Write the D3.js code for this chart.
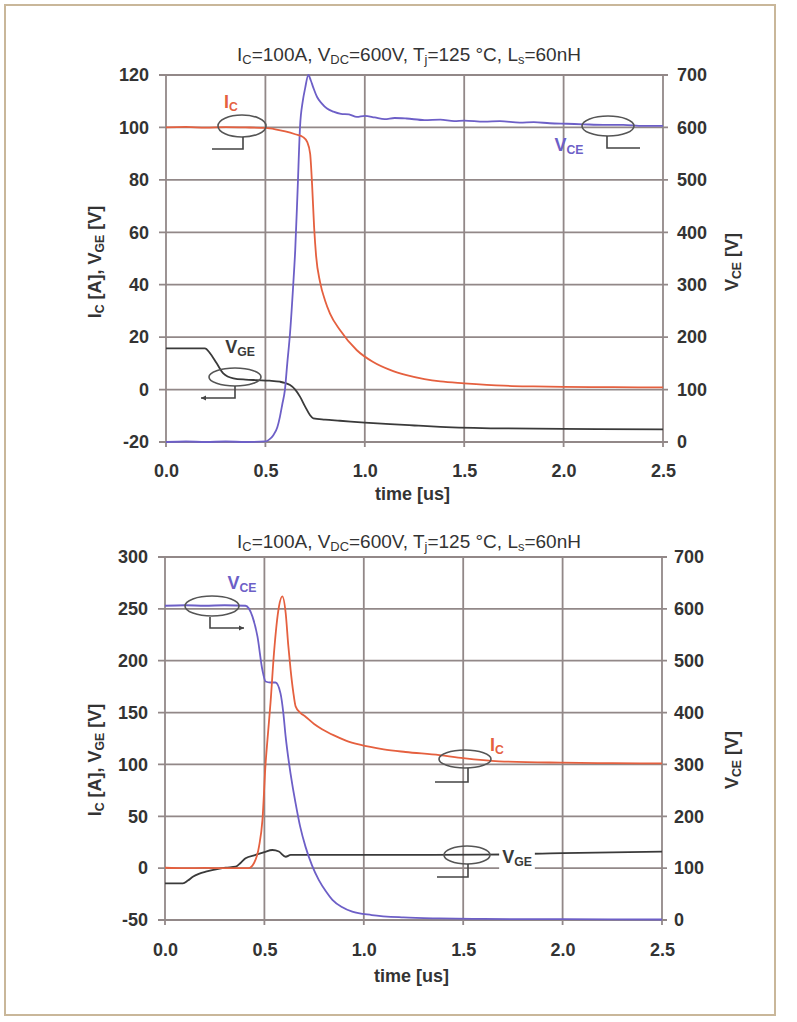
<!DOCTYPE html>
<html><head><meta charset="utf-8">
<script src="https://cdn.jsdelivr.net/npm/d3@7"></script>
<style>body{margin:0;background:#fff}svg{display:block}</style>
</head><body>
<script>
// ---------- DATA ----------
const timeTicks = [0, 0.5, 1.0, 1.5, 2.0, 2.5];
const topLeftTicks = [-20, 0, 20, 40, 60, 80, 100, 120];
const topRightTicks = [0, 100, 200, 300, 400, 500, 600, 700];
const botLeftTicks = [-50, 0, 50, 100, 150, 200, 250, 300];
const botRightTicks = [0, 100, 200, 300, 400, 500, 600, 700];

// Turn-off (top) : [time us, value]
const topIC = [[0,100],[0.1,100.2],[0.2,99.9],[0.3,100.1],[0.4,100],[0.5,99.8],[0.55,99.3],[0.6,98.5],[0.65,97.4],[0.69,96.3],[0.71,94.5],[0.725,90],[0.735,78],[0.745,62],[0.755,51],[0.775,41],[0.8,34],[0.825,29],[0.875,22.7],[0.96,15],[1.04,10.6],[1.13,7.4],[1.21,5.5],[1.3,4],[1.38,3.1],[1.5,2.4],[1.7,1.5],[1.85,1.2],[2.0,1.0],[2.25,0.9],[2.5,0.8]];
const topVCE = [[0,0],[0.1,1],[0.2,0],[0.3,1],[0.4,0],[0.5,1],[0.52,5],[0.54,13],[0.56,28],[0.573,48],[0.585,72],[0.598,99],[0.61,150],[0.624,208],[0.64,300],[0.65,366],[0.662,480],[0.674,600],[0.688,650],[0.7,675],[0.716,700],[0.728,690],[0.741,676],[0.76,658],[0.783,646],[0.81,636],[0.842,630],[0.88,626],[0.92,625],[0.96,620],[1.0,622],[1.05,619],[1.1,616],[1.15,618],[1.21,617],[1.3,614],[1.38,615],[1.45,612],[1.5,613],[1.6,611],[1.68,612],[1.78,609],[1.85,610],[1.93,608],[2.016,607],[2.1,606],[2.2,605],[2.3,605],[2.4,603],[2.5,603]];
const topVGE = [[0,15.7],[0.196,15.7],[0.22,14],[0.255,10],[0.288,6.2],[0.339,4.3],[0.4,3.8],[0.456,3.6],[0.52,3.4],[0.573,3.0],[0.6,2.5],[0.624,1.7],[0.65,0],[0.674,-2.7],[0.7,-6.5],[0.724,-9.7],[0.741,-11],[0.8,-11.5],[0.875,-11.9],[1.0,-12.6],[1.127,-13.2],[1.25,-13.7],[1.38,-14.2],[1.68,-14.8],[2.0,-15],[2.5,-15.2]];

// Turn-on (bottom)
const botIC = [[0,0.4],[0.1,0],[0.2,0.2],[0.3,0],[0.42,0],[0.448,5],[0.473,21],[0.49,46],[0.506,101],[0.515,123],[0.531,160],[0.548,207],[0.573,252],[0.59,262],[0.607,246],[0.62,215],[0.632,191],[0.645,170],[0.657,156],[0.68,150],[0.707,146],[0.75,139],[0.79,134],[0.85,128],[0.91,123],[0.98,119],[1.1,114.5],[1.21,112],[1.38,109],[1.5,106],[1.68,103],[2.0,101.7],[2.25,101.2],[2.5,101]];
const botVCE = [[0,606],[0.1,607],[0.2,606],[0.3,607],[0.405,606],[0.44,585],[0.465,547],[0.49,482],[0.506,460],[0.53,458],[0.556,458],[0.581,437],[0.595,400],[0.607,353],[0.624,302],[0.64,262],[0.657,225],[0.68,180],[0.707,141],[0.74,105],[0.774,77],[0.81,55],[0.842,39],[0.89,25],[0.942,16],[1.04,9.6],[1.2,5],[1.38,3],[1.6,2],[2.0,1.5],[2.5,1]];
const botVGE = [[0,-14.6],[0.09,-14.6],[0.115,-12],[0.14,-8.3],[0.17,-5.5],[0.205,-3.4],[0.25,-1.5],[0.305,0.4],[0.355,1.4],[0.38,5],[0.405,9.5],[0.456,12.7],[0.5,15.5],[0.54,17.5],[0.573,16],[0.607,11],[0.632,12.7],[0.8,12.7],[1.2,12.7],[1.6,13],[2.0,14.5],[2.5,16]];

// ---------- DRAW ----------
const W = 797, H = 1022;
const RED = "#e5603f", BLUE = "#6d5fc7", BLK = "#3a3a3a", GRID = "#928888", TXT = "#333";
const FONT = "'Liberation Sans', Arial, sans-serif";
const TICK = 18, TITLE = 19, AXT = 18, LAB = 18;

const svg = d3.select("body").append("svg").attr("width", W).attr("height", H)
  .style("font-family", FONT);
svg.append("rect").attr("x", 5).attr("y", 5).attr("width", 770).attr("height", 1010)
  .attr("fill", "#fff").attr("stroke", "#c9b79a").attr("stroke-width", 2);

function subText(sel, parts, size) {
  parts.forEach(([t, s]) => {
    if (t) sel.append("tspan").text(t);
    if (s) sel.append("tspan").attr("baseline-shift", "-25%").attr("font-size", size * 0.68).text(s);
  });
}

const titleParts = [["I","C"],["=100A, V","DC"],["=600V, T","j"],["=125 °C, L","s"],["=60nH",null]];
const intFmt = d => String(d);

function panel(cfg) {
  const x = d3.scaleLinear().domain([0, 2.5]).range([cfg.x0, cfg.x1]);
  const yL = d3.scaleLinear().domain(cfg.lDom).range([cfg.y1, cfg.y0]);
  const yR = d3.scaleLinear().domain([0, 700]).range([cfg.y1, cfg.y0]);
  const g = svg.append("g");

  g.selectAll(".hg").data(cfg.lTicks).join("line")
    .attr("x1", cfg.x0 - 7).attr("x2", cfg.x1 + 5)
    .attr("y1", d => yL(d)).attr("y2", d => yL(d))
    .attr("stroke", GRID).attr("stroke-width", 1.8);
  g.selectAll(".vg").data(timeTicks).join("line")
    .attr("x1", d => x(d)).attr("x2", d => x(d))
    .attr("y1", cfg.y0).attr("y2", cfg.y1 + 5)
    .attr("stroke", GRID).attr("stroke-width", 1.8);

  const ax = g.append("g").attr("transform", `translate(0,${cfg.y1 + 5})`)
    .call(d3.axisBottom(x).tickValues(timeTicks).tickFormat(d => d.toFixed(1)).tickSize(0).tickPadding(cfg.xPad));
  const al = g.append("g").attr("transform", `translate(${cfg.x0 - 7},0)`)
    .call(d3.axisLeft(yL).tickValues(cfg.lTicks).tickFormat(intFmt).tickSize(0).tickPadding(10));
  const ar = g.append("g").attr("transform", `translate(${cfg.x1 + 5},0)`)
    .call(d3.axisRight(yR).tickValues(cfg.rTicks).tickFormat(intFmt).tickSize(0).tickPadding(cfg.rPad));
  [ax, al, ar].forEach(a => {
    a.select(".domain").remove();
    a.selectAll("text").attr("font-size", TICK).attr("fill", TXT).attr("font-family", FONT).attr("font-weight", "bold");
  });

  g.append("text").attr("x", (cfg.x0 + cfg.x1) / 2 - 2).attr("y", cfg.y1 + cfg.tY)
    .attr("text-anchor", "middle").attr("font-size", AXT).attr("font-weight", "bold").attr("fill", TXT)
    .text("time [us]");
  const lt = g.append("text").attr("transform", `translate(${cfg.lx},${cfg.ly}) rotate(-90)`)
    .attr("text-anchor", "middle").attr("font-size", AXT).attr("font-weight", "bold").attr("fill", TXT);
  subText(lt, [["I","C"],[" [A],  V","GE"],[" [V]",null]], AXT);
  const rt = g.append("text").attr("transform", `translate(${cfg.rx},${cfg.ly}) rotate(-90)`)
    .attr("text-anchor", "middle").attr("font-size", AXT).attr("font-weight", "bold").attr("fill", TXT);
  subText(rt, [["V","CE"],[" [V]",null]], AXT);

  const tt = g.append("text").attr("x", 409).attr("y", cfg.titleY).attr("text-anchor", "middle")
    .attr("font-size", TITLE).attr("fill", TXT);
  subText(tt, titleParts, TITLE);

  const lineL = d3.line().x(d => x(d[0])).y(d => yL(d[1])).curve(d3.curveMonotoneX);
  const lineR = d3.line().x(d => x(d[0])).y(d => yR(d[1])).curve(d3.curveMonotoneX);
  g.append("path").datum(cfg.vge).attr("d", lineL).attr("fill", "none").attr("stroke", BLK).attr("stroke-width", 1.8);
  g.append("path").datum(cfg.vce).attr("d", lineR).attr("fill", "none").attr("stroke", BLUE).attr("stroke-width", 1.8);
  g.append("path").datum(cfg.ic).attr("d", lineL).attr("fill", "none").attr("stroke", RED).attr("stroke-width", 1.8);

  return {x, yL, yR, g};
}

function ellipse(g, cx, cy, rx, ry) {
  g.append("ellipse").attr("cx", cx).attr("cy", cy).attr("rx", rx).attr("ry", ry)
    .attr("fill", "none").attr("stroke", "#555").attr("stroke-width", 1.6);
}
function bracket(g, x0, y0, y1, x1, arrow) {
  g.append("path").attr("d", `M${x0},${y0}V${y1}H${x1}`).attr("fill", "none")
    .attr("stroke", "#444").attr("stroke-width", 1.6);
  if (arrow) {
    const dir = x1 > x0 ? 1 : -1;
    g.append("path").attr("d", `M${x1},${y1}l${-dir*5},-2.5v5z`).attr("fill", "#444");
  }
}
function label(g, x, y, main, sub, color, bg) {
  const t = g.append("text").attr("x", x).attr("y", y).attr("font-size", LAB)
    .attr("font-weight", "bold").attr("fill", color).attr("text-anchor", "middle");
  subText(t, [[main, sub]], LAB);
  if (bg) {
    const b = t.node().getBBox();
    g.insert("rect", () => t.node()).attr("x", b.x - 3).attr("y", b.y).attr("width", b.width + 6)
      .attr("height", b.height).attr("fill", "#fff");
  }
}

// Top panel
const P1 = panel({x0: 166, x1: 663, y0: 75, y1: 442, lDom: [-20, 120], lTicks: topLeftTicks, rTicks: topRightTicks,
  ic: topIC, vce: topVCE, vge: topVGE, xPad: 17, rPad: 9, tY: 58, lx: 101, rx: 738, ly: 262, titleY: 61});
ellipse(P1.g, 242, 126, 24, 11);
bracket(P1.g, 243, 137, 149, 212, false);
label(P1.g, 231, 108, "I", "C", RED);
ellipse(P1.g, 608, 126, 26, 10);
bracket(P1.g, 607, 136, 148, 640, false);
label(P1.g, 569, 151, "V", "CE", BLUE);
ellipse(P1.g, 235, 377, 26, 9);
bracket(P1.g, 235, 386, 398, 201, true);
label(P1.g, 240, 353, "V", "GE", BLK);

// Bottom panel
const P2 = panel({x0: 165, x1: 662, y0: 557, y1: 920, lDom: [-50, 300], lTicks: botLeftTicks, rTicks: botRightTicks,
  ic: botIC, vce: botVCE, vge: botVGE, xPad: 18, rPad: 7, tY: 62, lx: 101, rx: 738, ly: 760, titleY: 548});
ellipse(P2.g, 212, 606, 27, 10);
bracket(P2.g, 210, 617, 628, 244, true);
label(P2.g, 242, 589, "V", "CE", BLUE);
ellipse(P2.g, 465, 759, 26, 9);
bracket(P2.g, 468, 768, 782, 435, false);
label(P2.g, 497, 751, "I", "C", RED);
label(P2.g, 517, 863, "V", "GE", BLK, true);
ellipse(P2.g, 467, 855, 23, 9);
bracket(P2.g, 468, 864, 877, 437, false);
</script>
</body></html>
